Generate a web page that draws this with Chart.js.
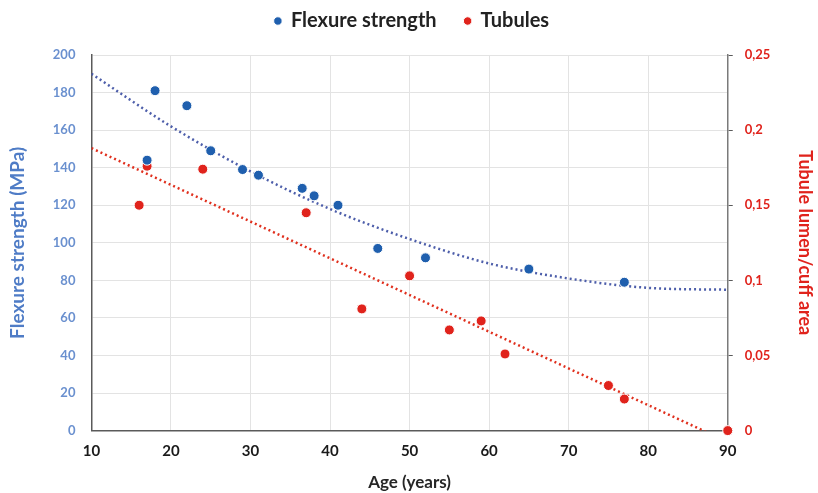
<!DOCTYPE html>
<html lang="en">
<head>
    <meta charset="UTF-8">
    <title>Flexure strength and tubules vs age</title>
    <script src="https://cdn.jsdelivr.net/npm/chart.js"></script>
    <style>
        body {
            margin: 0;
            padding: 0;
            background-color: #ffffff;
        }
        .wrap {
            width: 818px;
            height: 493px;
        }
    </style>
</head>
<body>
    <div class="wrap">
        <canvas id="ageChart" width="818" height="493"></canvas>
    </div>

    <script>
        // measured points
        const flexAge = [17, 18, 22, 25, 29, 31, 36.5, 38, 41, 46, 52, 65, 77];
        const flexMPa = [144, 181, 173, 149, 139, 136, 129, 125, 120, 97, 92, 86, 79];
        const tubAge = [16, 17, 24, 37, 44, 50, 55, 59, 62, 75, 77, 90];
        const tubArea = [0.150, 0.176, 0.174, 0.145, 0.081, 0.103, 0.067, 0.073, 0.051, 0.030, 0.021, 0];

        // trendlines
        const flexTrendAge = [10, 20, 30, 40, 50, 60, 70, 80, 90];
        const flexTrend = [190, 162, 138, 118, 102, 89, 81, 76, 75];
        const tubTrendAge = [10, 90];
        const tubTrend = [0.188, -0.0075];

        const xTicks = [10, 20, 30, 40, 50, 60, 70, 80, 90];

        const pair = (xs, ys) => xs.map((x, i) => ({ x: x, y: ys[i] }));

        const fontName = 'Lato, "Open Sans", sans-serif';

        // extra room under the legend
        const legendGap = {
            id: 'legendGap',
            beforeInit(chart) {
                const fit = chart.legend.fit;
                chart.legend.fit = function() {
                    fit.call(this);
                    this.height += 14;
                };
            }
        };

        var ctx = document.getElementById('ageChart').getContext('2d');
        var ageChart = new Chart(ctx, {
            type: 'scatter',
            data: {
                datasets: [
                    {
                        label: 'Flexure strength',
                        data: pair(flexAge, flexMPa),
                        yAxisID: 'y',
                        backgroundColor: '#1f5fae',
                        borderColor: '#ffffff',
                        borderWidth: 1,
                        pointRadius: 5,
                        clip: false,
                        order: 1
                    },
                    {
                        label: 'Tubules',
                        data: pair(tubAge, tubArea),
                        yAxisID: 'y1',
                        backgroundColor: '#e0231c',
                        borderColor: '#ffffff',
                        borderWidth: 1,
                        pointRadius: 5,
                        clip: false,
                        order: 1
                    },
                    {
                        label: 'flexTrend',
                        type: 'line',
                        data: pair(flexTrendAge, flexTrend),
                        yAxisID: 'y',
                        borderColor: '#4d5eaa',
                        borderWidth: 2.5,
                        borderDash: [2, 3],
                        pointRadius: 0,
                        cubicInterpolationMode: 'monotone',
                        fill: false,
                        order: 2
                    },
                    {
                        label: 'tubTrend',
                        type: 'line',
                        data: pair(tubTrendAge, tubTrend),
                        yAxisID: 'y1',
                        borderColor: '#e0301e',
                        borderWidth: 2.5,
                        borderDash: [2, 3],
                        pointRadius: 0,
                        fill: false,
                        clip: 0,
                        order: 2
                    }
                ]
            },
            options: {
                responsive: false,
                animation: false,
                layout: {
                    padding: { left: 6, right: 0, top: -17, bottom: 0 }
                },
                scales: {
                    x: {
                        type: 'linear',
                        min: 10,
                        max: 90,
                        afterBuildTicks: axis => {
                            axis.ticks = xTicks.map(v => ({ value: v }));
                        },
                        grid: {
                            color: '#e3e3e3',
                            drawTicks: false
                        },
                        border: { color: '#5a5a5a', width: 1.5 },
                        ticks: {
                            padding: 12,
                            color: '#1a1a1a',
                            font: { family: fontName, size: 15, weight: 'bold' }
                        },
                        title: {
                            display: true,
                            text: 'Age (years)',
                            color: '#262626',
                            padding: { top: 0, bottom: 0 },
                            font: { family: fontName, size: 17, weight: 'bold' }
                        }
                    },
                    y: {
                        position: 'left',
                        min: 0,
                        max: 200,
                        grid: {
                            color: '#e3e3e3',
                            drawTicks: false
                        },
                        border: { color: '#5a5a5a', width: 1.5 },
                        ticks: {
                            stepSize: 20,
                            padding: 16,
                            color: '#6a90cf',
                            font: { family: fontName, size: 13, weight: 'bold' }
                        },
                        title: {
                            display: true,
                            text: 'Flexure strength (MPa)',
                            color: '#4f7cc6',
                            padding: { top: 0, bottom: 8 },
                            font: { family: fontName, size: 19, weight: 'bold' }
                        }
                    },
                    y1: {
                        position: 'right',
                        min: 0,
                        max: 0.25,
                        grid: {
                            drawOnChartArea: false,
                            color: '#5a5a5a',
                            tickLength: 5
                        },
                        border: { color: '#7a7a7a', width: 1.5 },
                        ticks: {
                            stepSize: 0.05,
                            padding: 12,
                            color: '#e0231c',
                            font: { family: fontName, size: 13, weight: 'bold' },
                            callback: function(value) {
                                return String(Math.round(value * 100) / 100).replace('.', ',');
                            }
                        },
                        title: {
                            display: true,
                            text: 'Tubule lumen/cuff area',
                            color: '#e0231c',
                            padding: { top: 2, bottom: 12 },
                            font: { family: fontName, size: 18, weight: 'bold' }
                        }
                    }
                },
                plugins: {
                    legend: {
                        position: 'top',
                        labels: {
                            usePointStyle: true,
                            boxWidth: 6,
                            boxHeight: 6,
                            padding: 28,
                            color: '#222222',
                            font: { family: fontName, size: 20, weight: 'bold' },
                            filter: item => item.text === 'Flexure strength' || item.text === 'Tubules'
                        }
                    },
                    tooltip: { enabled: false }
                }
            },
            plugins: [legendGap]
        });
    </script>
</body>
</html>
